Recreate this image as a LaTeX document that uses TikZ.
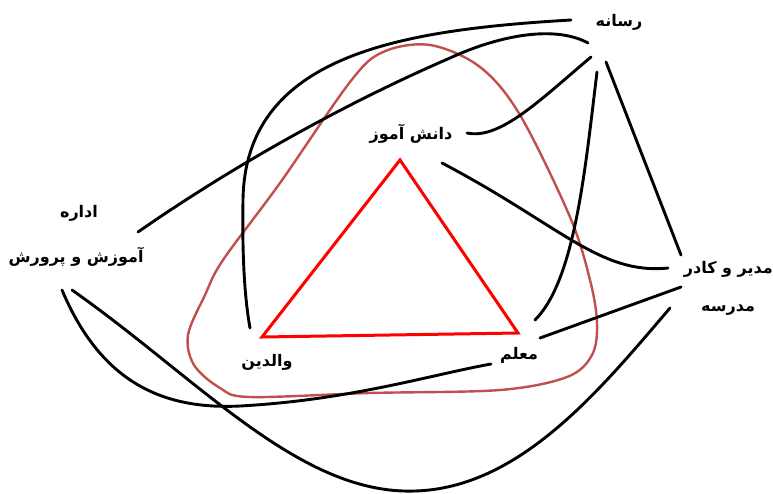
\documentclass[tikz,border=0pt]{standalone}
\usepackage{fontspec}
\usepackage{tikz}
\usetikzlibrary{calc,positioning}
\newfontfamily\arabicfont[Script=Arabic]{DejaVu Sans}
\TeXXeTstate=1
\definecolor{ringc}{HTML}{C0504D}
\definecolor{trired}{HTML}{FF0000}
\newcommand\rtltext[1]{\beginR #1\endR}
\tikzset{
  lnk/.style={line width=2.9pt,black,line cap=round},
  ring/.style={line width=2.4pt,ringc},
  tri/.style={line width=3pt,trired,line join=miter},
  lbl/.style={font=\arabicfont\bfseries\fontsize{16}{18}\selectfont,inner sep=0pt}
}

\begin{document}
\begin{tikzpicture}[x=1pt,y=-1pt]
\useasboundingbox (0,0) rectangle (773,493);
% labels
\node[lbl] (rasane) at (619,22) {\rtltext{رسانه}};
\node[lbl] (daneshamooz) at (411,134) {\rtltext{دانش آموز}};
\node[lbl] (edare) at (79,213) {\rtltext{اداره}};
\node[lbl] (amoozesh) at (76,257) {\rtltext{آموزش و پرورش}};
\node[lbl,anchor=east] (modir) at (773,269) {\rtltext{مدیر و کادر}};
\node[lbl] (madrese) at (728,310) {\rtltext{مدرسه}};
\node[lbl] (valedin) at (267,362) {\rtltext{والدین}};
\node[lbl] (moallem) at (519,355) {\rtltext{معلم}};
% ends of the links
\coordinate (r1) at (571,20); \coordinate (r2) at (588,43); \coordinate (r3) at (591,57);
\coordinate (r4) at (597,72); \coordinate (r5) at (606,62);
\coordinate (d1) at (467,133); \coordinate (d2) at (442,163);
\coordinate (e1) at (138,232); \coordinate (a1) at (62,290); \coordinate (a2) at (72,290);
\coordinate (m1) at (668,268); \coordinate (m2) at (681,255); \coordinate (m3) at (681,287);
\coordinate (m4) at (670,308);
\coordinate (v1) at (250,328);
\coordinate (t1) at (535,320); \coordinate (t2) at (540,338); \coordinate (t3) at (491,364);
% triangle and ring
\coordinate (ta) at (400,160); \coordinate (tb) at (262,337); \coordinate (tc) at (518,333);
\draw[tri] (ta)--(tb)--(tc)--cycle;
\draw[ring] plot[smooth cycle,tension=0.55] coordinates {(430,45) (383,52) (350,82) (280,183) (223,260) (205,295) (188,335) (194,365) (220,388) (250,397) (370,393) (500,390) (567,377) (592,355) (597,323) (590,280) (570,217) (520,115) (480,67)};
% links
\draw[lnk] (r1) .. controls (400,30) and (245,55) .. (243,200) .. controls (242,260) and (245,300) .. (v1);
\draw[lnk] (r2) .. controls (555,25) and (500,35) .. (450,58) .. controls (330,110) and (220,175) .. (e1);
\draw[lnk] (r3) .. controls (540,100) and (500,140) .. (d1);
\draw[lnk] (r4) .. controls (585,170) and (575,280) .. (t1);
\draw[lnk] (r5) -- (m2);
\draw[lnk] (d2) .. controls (560,225) and (600,275) .. (m1);
\draw[lnk] (m3) -- (t2);
\draw[lnk] (a2) .. controls (200,380) and (300,495) .. (415,491) .. controls (520,488) and (600,390) .. (m4);
\draw[lnk] (a1) .. controls (100,380) and (160,410) .. (240,406) .. controls (350,400) and (430,375) .. (t3);
\end{tikzpicture}
\end{document}
